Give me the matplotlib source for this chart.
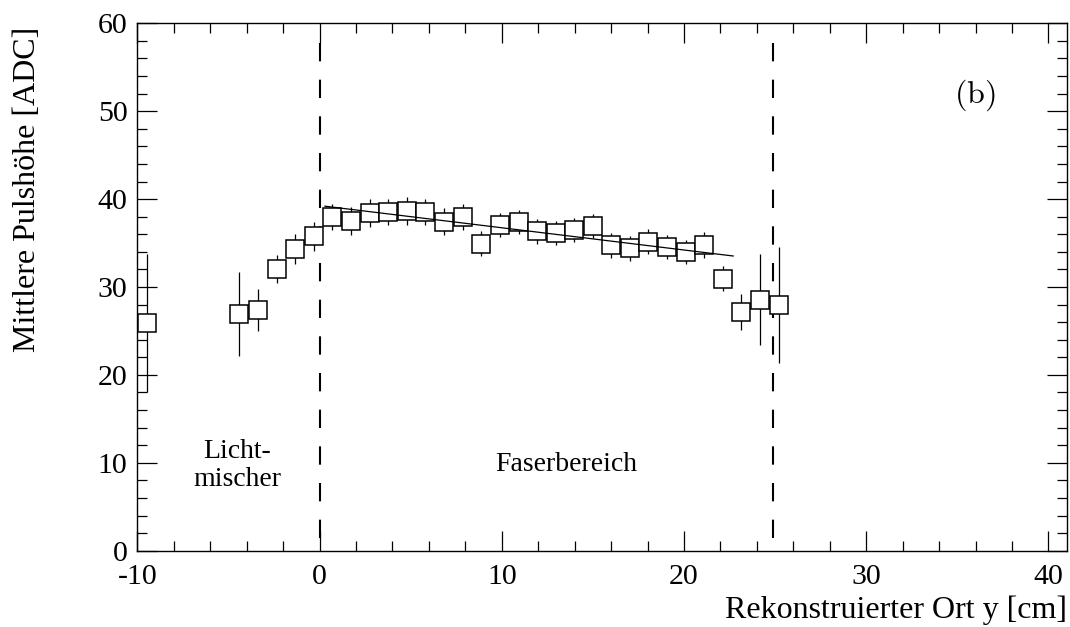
import numpy as np
import matplotlib
matplotlib.use('Agg')
import matplotlib.pyplot as plt
from matplotlib.ticker import MultipleLocator

plt.rcParams['font.family'] = ['Liberation Serif', 'DejaVu Serif']
plt.rcParams['mathtext.fontset'] = 'cm'
plt.rcParams['axes.unicode_minus'] = False

# rekonstruierter Ort y [cm] und mittlere Pulshoehe [ADC]
ort = [-9.48, -4.40, -3.37, -2.34, -1.32, -0.30, 0.71, 1.73, 2.76, 3.77,
       4.79, 5.81, 6.83, 7.86, 8.86, 9.88, 10.92, 11.94, 12.96, 13.97,
       14.98, 16.01, 17.03, 18.05, 19.08, 20.09, 21.11, 22.13, 23.15, 24.18,
       25.20]
puls = [25.9, 26.95, 27.4, 32.0, 34.35, 35.8, 38.0, 37.5, 38.4, 38.55,
        38.65, 38.55, 37.45, 38.0, 34.95, 37.05, 37.4, 36.35, 36.15, 36.5,
        36.95, 34.75, 34.4, 35.15, 34.55, 34.0, 34.8, 30.95, 27.15, 28.55,
        28.0]
fehler = [7.9, 4.75, 2.35, 1.6, 1.7, 1.65, 1.5, 1.55, 1.6, 1.5,
          1.55, 1.5, 1.5, 1.5, 1.45, 1.4, 1.4, 1.4, 1.4, 1.4,
          1.4, 1.4, 1.4, 1.4, 1.4, 1.4, 1.45, 1.45, 2.05, 5.15,
          6.6]

# lineare Anpassung im Faserbereich
fit_a = 39.27
fit_b = -0.253
fit_von, fit_bis = 0.3, 22.7

# Grenzen Lichtmischer / Faserbereich
grenzen = [0.0, 24.9]
grenze_oben = 57.8

fig = plt.figure(figsize=(10.7, 6.27), dpi=100)
ax = fig.add_axes([0.1283, 0.1217, 0.9969 - 0.1283, 0.9628 - 0.1217])

ax.errorbar(ort, puls, yerr=fehler, fmt='none', ecolor='black',
            elinewidth=0.9, capsize=0, zorder=2)
ax.plot(ort, puls, ls='none', marker='s', markersize=13.4,
        markerfacecolor='white', markeredgecolor='black',
        markeredgewidth=1.1, zorder=3)

xf = np.linspace(fit_von, fit_bis, 50)
ax.plot(xf, fit_a + fit_b * xf, color='black', lw=0.9, zorder=4)

for g in grenzen:
    ax.plot([g, g], [grenze_oben, 0], color='black', lw=1.5,
            dashes=(8.8, 8.8), zorder=1)

ax.text(-4.52, 10.5, 'Licht-', ha='center', va='baseline', fontsize=20)
ax.text(-4.52, 7.4, 'mischer', ha='center', va='baseline', fontsize=20)
ax.text(13.54, 9.1, 'Faserbereich', ha='center', va='baseline', fontsize=20)
ax.text(35.93, 51.8, r'$\mathrm{(b)}$', ha='center', va='center', fontsize=23)

ax.set_xlim(-10, 41)
ax.set_ylim(0, 60)
ax.xaxis.set_major_locator(MultipleLocator(10))
ax.xaxis.set_minor_locator(MultipleLocator(2))
ax.yaxis.set_major_locator(MultipleLocator(10))
ax.yaxis.set_minor_locator(MultipleLocator(2))
ax.tick_params(which='both', direction='in', top=True, right=True,
               labelsize=21.5, width=0.9)
ax.tick_params(which='major', length=14.4)
ax.tick_params(which='minor', length=7.2)
ax.tick_params(axis='y', pad=7)
ax.tick_params(axis='x', pad=9.5)
for s in ax.spines.values():
    s.set_linewidth(1.0)

ax.set_xlabel('Rekonstruierter Ort y [cm]', fontsize=23, ha='right')
ax.xaxis.set_label_coords(1.0, -0.085)
ax.set_ylabel('Mittlere Pulshöhe [ADC]', fontsize=23, ha='right')
ax.yaxis.set_label_coords(-0.102, 0.993)

fig.savefig('out.png', dpi=100)
